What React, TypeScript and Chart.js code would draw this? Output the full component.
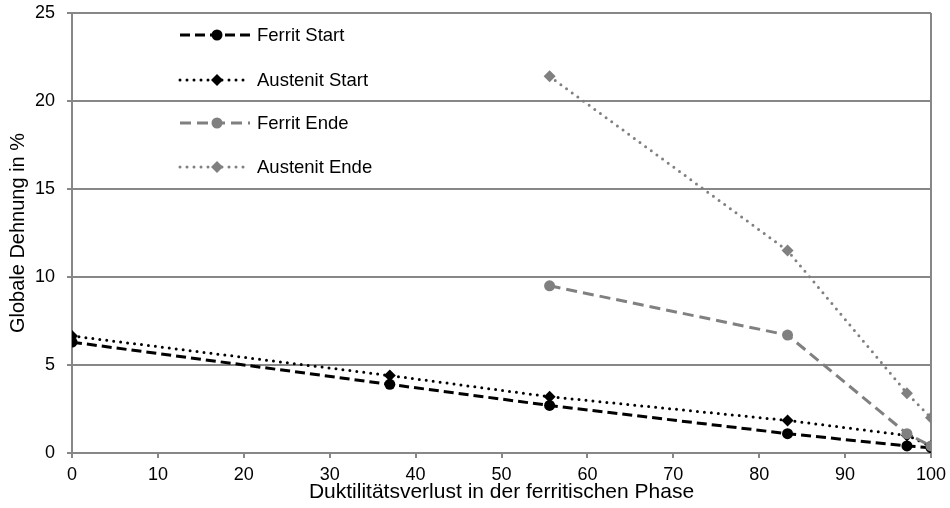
import React, { useEffect, useRef } from "react";
import { Chart, registerables } from "chart.js";

Chart.register(...registerables);

const xValues = [0, 37, 55.6, 83.3, 97.2, 100];
const ferritStart = [6.3, 3.9, 2.7, 1.1, 0.4, 0.3];
const austenitStart = [6.65, 4.4, 3.2, 1.85, 1.0, 0.4];
const ferritEnde = [null, null, 9.5, 6.7, 1.1, 0.4];
const austenitEnde = [null, null, 21.4, 11.5, 3.4, 2.0];
const seriesNames = ["Ferrit Start", "Austenit Start", "Ferrit Ende", "Austenit Ende"];
const xTitle = "Duktilitätsverlust in der ferritischen Phase";
const yTitle = "Globale Dehnung in %";

const GRID = "#878787";
const FONT = "'Liberation Sans', Arial, sans-serif";

function toPoints(vals: (number | null)[]) {
  return xValues
    .map((x, i) => ({ x, y: vals[i] }))
    .filter((p) => p.y !== null) as { x: number; y: number }[];
}

const legendPlugin = {
  id: "insideLegend",
  afterDraw(chart: any) {
    const ctx = chart.ctx;
    const ys = [35, 80, 123, 167];
    const x0 = 180, x1 = 250, xm = 217, xt = 257;
    chart.data.datasets.forEach((ds: any, i: number) => {
      const y = ys[i];
      ctx.save();
      ctx.strokeStyle = ds.borderColor;
      ctx.lineWidth = ds.borderWidth;
      ctx.lineCap = ds.borderCapStyle || "butt";
      ctx.setLineDash(ds.borderDash || []);
      ctx.beginPath();
      ctx.moveTo(x0, y);
      ctx.lineTo(x1, y);
      ctx.stroke();
      ctx.setLineDash([]);
      ctx.fillStyle = ds.pointBackgroundColor;
      const r = ds.pointRadius;
      ctx.beginPath();
      if (ds.pointStyle === "rectRot") {
        ctx.moveTo(xm, y - r);
        ctx.lineTo(xm + r, y);
        ctx.lineTo(xm, y + r);
        ctx.lineTo(xm - r, y);
        ctx.closePath();
      } else {
        ctx.arc(xm, y, r, 0, Math.PI * 2);
      }
      ctx.fill();
      ctx.fillStyle = "#000";
      ctx.font = `18.5px ${FONT}`;
      ctx.textBaseline = "middle";
      ctx.textAlign = "left";
      ctx.fillText(seriesNames[i], xt, y + 1);
      ctx.restore();
    });
  },
};

export default function App() {
  const ref = useRef<HTMLCanvasElement | null>(null);
  useEffect(() => {
    if (!ref.current) return;
    const chart = new Chart(ref.current, {
      type: "line",
      data: {
        datasets: [
          {
            label: seriesNames[0],
            data: toPoints(ferritStart),
            borderColor: "#000",
            borderWidth: 3,
            borderDash: [10, 5],
            pointStyle: "circle",
            pointRadius: 5.5,
            pointBackgroundColor: "#000",
            pointBorderWidth: 0,
            order: 3,
          },
          {
            label: seriesNames[1],
            data: toPoints(austenitStart),
            borderColor: "#000",
            borderWidth: 3,
            borderDash: [0, 7],
            borderCapStyle: "round",
            pointStyle: "rectRot",
            pointRadius: 6,
            pointBackgroundColor: "#000",
            pointBorderWidth: 0,
            order: 2,
          },
          {
            label: seriesNames[2],
            data: toPoints(ferritEnde),
            borderColor: "#808080",
            borderWidth: 3,
            borderDash: [11, 6],
            pointStyle: "circle",
            pointRadius: 5.5,
            pointBackgroundColor: "#808080",
            pointBorderWidth: 0,
            order: 0,
          },
          {
            label: seriesNames[3],
            data: toPoints(austenitEnde),
            borderColor: "#808080",
            borderWidth: 3,
            borderDash: [0, 7],
            borderCapStyle: "round",
            pointStyle: "rectRot",
            pointRadius: 6,
            pointBackgroundColor: "#808080",
            pointBorderWidth: 0,
            order: 1,
          },
        ] as any,
      },
      options: {
        responsive: false,
        animation: false,
        layout: { padding: { top: 13, right: 19, left: 0, bottom: 0 } },
        plugins: { legend: { display: false }, tooltip: { enabled: false } },
        scales: {
          x: {
            type: "linear",
            min: 0,
            max: 100,
            afterFit: (s: any) => {
              s.height = 55;
              s.paddingLeft = 0;
              s.paddingRight = 0;
            },
            ticks: {
              stepSize: 10,
              color: "#000",
              font: { family: FONT, size: 18 },
              padding: 6,
              maxRotation: 0,
            },
            grid: {
              color: (c: any) => (c.tick && c.tick.value === 100 ? GRID : "rgba(0,0,0,0)"),
              tickColor: GRID,
              tickLength: 5,
              lineWidth: 2,
            },
            border: { color: GRID, width: 2 },
            title: {
              display: true,
              text: xTitle,
              color: "#000",
              font: { family: FONT, size: 21 },
              padding: { top: 0, bottom: 3 },
            },
          },
          y: {
            type: "linear",
            min: 0,
            max: 25,
            afterFit: (s: any) => {
              s.width = 72;
              s.paddingTop = 0;
              s.paddingBottom = 0;
            },
            ticks: {
              stepSize: 5,
              color: "#000",
              font: { family: FONT, size: 18 },
              padding: 12,
            },
            grid: {
              color: GRID,
              tickColor: GRID,
              tickLength: 5,
              lineWidth: 2,
            },
            border: { color: GRID, width: 2 },
            title: {
              display: true,
              text: yTitle,
              color: "#000",
              font: { family: FONT, size: 20 },
              padding: { top: 6, bottom: 0 },
            },
          },
        },
      } as any,
      plugins: [legendPlugin],
    });
    return () => chart.destroy();
  }, []);
  return (
    <canvas
      ref={ref}
      width={950}
      height={508}
      style={{ position: "fixed", left: 0, top: 0, display: "block", background: "#fff" }}
    />
  );
}
